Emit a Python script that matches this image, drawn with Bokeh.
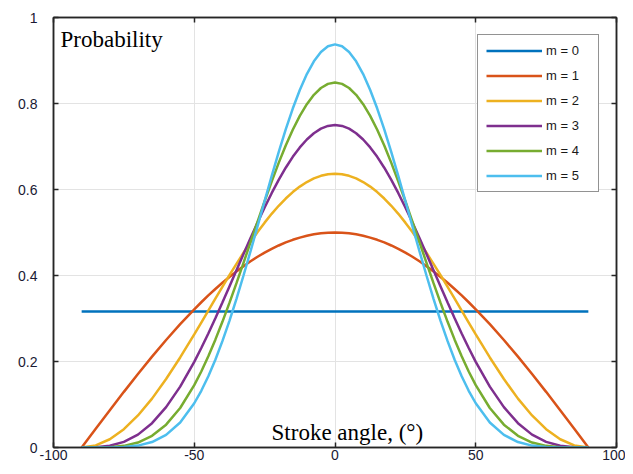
from bokeh.plotting import figure
from bokeh.models import LinearAxis, Legend, LegendItem, Label, FixedTicker, Range1d
from bokeh.embed import file_html
from bokeh.resources import INLINE

# Stroke angle (degrees)
angle = [-90, -85, -80, -75, -70, -65, -60, -55, -50, -47.5, -45, -42.5, -40, -37.5, -35, -32.5, -30,
         -27.5, -25, -22.5, -20, -17.5, -15, -12.5, -10, -7.5, -5, -2.5, 0, 2.5, 5, 7.5, 10, 12.5, 15,
         17.5, 20, 22.5, 25, 27.5, 30, 32.5, 35, 37.5, 40, 42.5, 45, 47.5, 50, 55, 60, 65, 70, 75, 80, 85, 90]

# Probability values
m0_angle = [-90, 90]
m0 = [0.316, 0.316]
m1 = [0, .0436, .0868, .1294, .1710, .2113, .2500, .2868, .3214, .3378, .3536, .3686, .3830, .3967, .4096,
      .4217, .4330, .4435, .4532, .4619, .4698, .4769, .4830, .4881, .4924, .4957, .4981, .4995, .5000,
      .4995, .4981, .4957, .4924, .4881, .4830, .4769, .4698, .4619, .4532, .4435, .4330, .4217, .4096,
      .3967, .3830, .3686, .3536, .3378, .3214, .2868, .2500, .2113, .1710, .1294, .0868, .0436, 0]
m2 = [0, .0048, .0192, .0426, .0745, .1137, .1592, .2094, .2630, .2906, .3183, .3460, .3736, .4007, .4272,
      .4528, .4775, .5009, .5229, .5434, .5621, .5790, .5940, .6068, .6174, .6258, .6318, .6354, .6366,
      .6354, .6318, .6258, .6174, .6068, .5940, .5790, .5621, .5434, .5229, .5009, .4775, .4528, .4272,
      .4007, .3736, .3460, .3183, .2906, .2630, .2094, .1592, .1137, .0745, .0426, .0192, .0048, 0]
m3 = [0, .0005, .0039, .0130, .0300, .0566, .0938, .1415, .1992, .2313, .2652, .3006, .3371, .3745, .4122,
      .4499, .4871, .5234, .5583, .5914, .6223, .6506, .6759, .6979, .7163, .7309, .7415, .7479, .7500,
      .7479, .7415, .7309, .7163, .6979, .6759, .6506, .6223, .5914, .5583, .5234, .4871, .4499, .4122,
      .3745, .3371, .3006, .2652, .2313, .1992, .1415, .0938, .0566, .0300, .0130, .0039, .0005, 0]
m4 = [0, .0001, .0008, .0038, .0116, .0271, .0531, .0919, .1449, .1768, .2122, .2508, .2923, .3363, .3822,
      .4295, .4775, .5255, .5727, .6184, .6619, .7023, .7389, .7712, .7984, .8202, .8360, .8456, .8488,
      .8456, .8360, .8202, .7984, .7712, .7389, .7023, .6619, .6184, .5727, .5255, .4775, .4295, .3822,
      .3363, .2923, .2508, .2122, .1768, .1449, .0919, .0531, .0271, .0116, .0038, .0008, .0001, 0]
m5 = [0, .0000, .0002, .0011, .0044, .0126, .0293, .0582, .1029, .1319, .1657, .2042, .2473, .2946, .3458,
      .4000, .4567, .5148, .5733, .6310, .6869, .7397, .7883, .8315, .8684, .8981, .9198, .9330, .9375,
      .9330, .9198, .8981, .8684, .8315, .7883, .7397, .6869, .6310, .5733, .5148, .4567, .4000, .3458,
      .2946, .2473, .2042, .1657, .1319, .1029, .0582, .0293, .0126, .0044, .0011, .0002, .0000, 0]

series = [(m0_angle, m0), (angle, m1), (angle, m2), (angle, m3), (angle, m4), (angle, m5)]
names = ["m = 0", "m = 1", "m = 2", "m = 3", "m = 4", "m = 5"]
colors = ["#0072BD", "#D95319", "#EDB120", "#7E2F8E", "#77AC30", "#4DBEEE"]

x_ticks = [-100, -50, 0, 50, 100]
x_tick_labels = {-100: "-100", -50: "-50", 0: "0", 50: "50", 100: "100"}
y_ticks = [0, 0.2, 0.4, 0.6, 0.8, 1]
y_tick_labels = {0: "0", 0.2: "0.2", 0.4: "0.4", 0.6: "0.6", 0.8: "0.8", 1: "1"}

AX = "#262626"

p = figure(width=625, height=466, output_backend="svg", toolbar_location=None,
           x_range=Range1d(-100, 100), y_range=Range1d(0, 1),
           min_border_left=53, min_border_right=9, min_border_top=17, min_border_bottom=19)
p.background_fill_color = "white"
p.outline_line_color = AX
p.outline_line_width = 1.5

for ax in [p.xaxis[0], p.yaxis[0]]:
    ax.major_tick_in = 5
    ax.major_tick_out = 0
    ax.minor_tick_in = 0
    ax.minor_tick_out = 0
    ax.axis_line_color = AX
    ax.axis_line_width = 1.5
    ax.major_tick_line_color = AX
    ax.major_tick_line_width = 1.5
    ax.major_label_text_font = "Liberation Sans"
    ax.major_label_text_font_size = "14px"
    ax.major_label_text_color = "#1a1a33"

p.xaxis.ticker = FixedTicker(ticks=x_ticks)
p.xaxis.major_label_overrides = x_tick_labels
p.yaxis.ticker = FixedTicker(ticks=y_ticks)
p.yaxis.major_label_overrides = y_tick_labels
p.xaxis.major_label_standoff = 2
p.yaxis.major_label_standoff = 16

for loc in ["above", "right"]:
    ticks = x_ticks if loc == "above" else y_ticks
    ax = LinearAxis(ticker=FixedTicker(ticks=ticks))
    ax.major_label_overrides = {t: "" for t in ticks}
    ax.major_tick_in = 5
    ax.major_tick_out = 0
    ax.minor_tick_in = 0
    ax.minor_tick_out = 0
    ax.major_label_standoff = 0
    ax.axis_line_color = AX
    ax.axis_line_width = 1.5
    ax.major_tick_line_color = AX
    ax.major_tick_line_width = 1.5
    p.add_layout(ax, loc)

p.xgrid.ticker = FixedTicker(ticks=x_ticks)
p.ygrid.ticker = FixedTicker(ticks=y_ticks)
p.grid.grid_line_color = "#e3e3e3"
p.grid.grid_line_width = 1

items = []
for (xs, ys), n, c in zip(series, names, colors):
    r = p.line(xs, ys, line_color=c, line_width=2.5)
    items.append(LegendItem(label=n, renderers=[r]))

legend = Legend(items=items, location="top_right")
legend.margin = 17
legend.padding = 8
legend.spacing = 10
legend.label_height = 15
legend.glyph_height = 15
legend.glyph_width = 56
legend.label_width = 44
legend.label_standoff = 4
legend.label_text_font = "Liberation Sans"
legend.label_text_font_size = "13px"
legend.label_text_color = "#1a1a1a"
legend.border_line_color = AX
legend.border_line_width = 1.2
legend.background_fill_color = "white"
legend.background_fill_alpha = 1
p.add_layout(legend, "center")

p.add_layout(Label(x=-97.5, y=0.95, text="Probability", text_font="Liberation Serif",
                   text_font_size="23px", text_color="black", text_baseline="alphabetic"))
p.add_layout(Label(x=4.4, y=0.035, text="Stroke angle, (°)", text_font="Liberation Serif",
                   text_font_size="23px", text_color="black", text_align="center",
                   text_baseline="alphabetic"))

open("out.html", "w").write(file_html(p, INLINE))
